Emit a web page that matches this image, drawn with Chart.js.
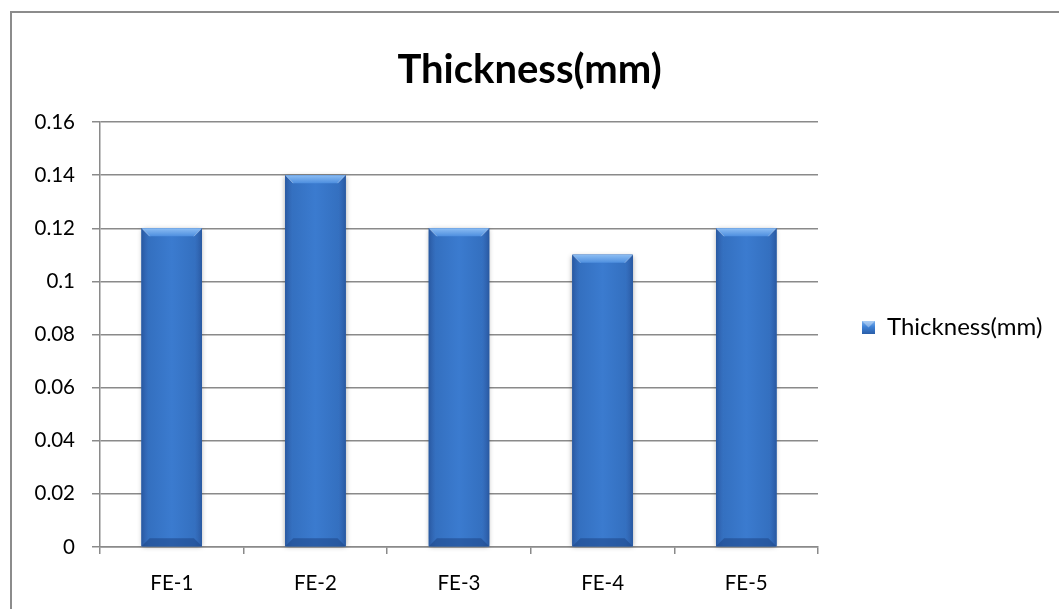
<!DOCTYPE html>
<html>
<head>
<meta charset="utf-8">
<script src="https://cdn.jsdelivr.net/npm/chart.js@4/dist/chart.umd.min.js"></script>
<style>
  html, body { margin: 0; padding: 0; background: #fff; }
  #wrap { position: relative; width: 1059px; height: 609px; }
  #frame { position: absolute; left: 10px; top: 11px; right: 0; bottom: 0;
           border-left: 2px solid #8c8c8c; border-top: 2px solid #8c8c8c; pointer-events: none; }
  canvas { position: absolute; left: 0; top: 0; }
</style>
</head>
<body>
<div id="wrap">
  <canvas id="chart" width="1059" height="609"></canvas>
  <div id="frame"></div>
</div>
<script>
// Sample thickness per specimen
const categories = ['FE-1', 'FE-2', 'FE-3', 'FE-4', 'FE-5'];
const thickness = [0.12, 0.14, 0.12, 0.11, 0.12];
const seriesName = 'Thickness(mm)';
const yTicks = [0, 0.02, 0.04, 0.06, 0.08, 0.1, 0.12, 0.14, 0.16];

const FONT = 'Lato, "Open Sans", sans-serif';
const GRID = '#8a8a8a';
const TICK_SIZE = 20.5;
const LEGEND_SIZE = 24;
const MARK = 13;
const LEGEND_PAD = 44;
const PLOT_LEFT = 100;
const PLOT_RIGHT = 818;
const CANVAS_W = 1059;

// Small bevelled square used as the legend marker
function makeMarker(size) {
  const c = document.createElement('canvas');
  c.width = size; c.height = size;
  const g = c.getContext('2d');
  const lg = g.createLinearGradient(0, 0, 0, size);
  lg.addColorStop(0, '#7db3f0');
  lg.addColorStop(0.45, '#3f82d6');
  lg.addColorStop(1, '#2a5ea8');
  g.fillStyle = lg;
  g.fillRect(0, 0, size, size);
  g.fillStyle = 'rgba(255,255,255,0.35)';
  g.beginPath(); g.moveTo(0, 0); g.lineTo(size, 0); g.lineTo(size / 2, size / 2); g.closePath(); g.fill();
  return c;
}

// Width the legend column needs, so the plot keeps its right edge
function legendWidth() {
  const c = document.createElement('canvas').getContext('2d');
  c.font = `${LEGEND_SIZE}px ${FONT}`;
  const itemW = MARK + LEGEND_SIZE / 2 + c.measureText(seriesName).width;
  return LEGEND_PAD + itemW + 10;
}

// Draws the bevelled look on top of each bar the library has laid out
const bevelBars = {
  id: 'bevelBars',
  afterDatasetsDraw(chart) {
    const ctx = chart.ctx;
    chart.getSortedVisibleDatasetMetas().forEach(meta => {
      meta.data.forEach(bar => {
        const p = bar.getProps(['x', 'y', 'base', 'width'], true);
        const L = p.x - p.width / 2, R = p.x + p.width / 2;
        const T = Math.min(p.y, p.base), B = Math.max(p.y, p.base);
        const w = R - L, h = B - T, b = 8;
        ctx.save();
        // soft shadow
        ctx.shadowColor = 'rgba(0,0,0,0.35)';
        ctx.shadowBlur = 5;
        ctx.shadowOffsetY = 1;
        ctx.fillStyle = '#2f65b2';
        ctx.fillRect(L, T, w, h);
        ctx.restore();

        ctx.save();
        // body: darker at the sides
        const hg = ctx.createLinearGradient(L, 0, R, 0);
        hg.addColorStop(0, '#2c5da6');
        hg.addColorStop(0.12, '#3470c0');
        hg.addColorStop(0.5, '#3b7bcf');
        hg.addColorStop(0.88, '#3470c0');
        hg.addColorStop(1, '#2c5da6');
        ctx.fillStyle = hg;
        ctx.fillRect(L, T, w, h);

        // top bevel
        const tg = ctx.createLinearGradient(0, T, 0, T + b);
        tg.addColorStop(0, '#8cbdf3');
        tg.addColorStop(1, '#4e8fdf');
        ctx.fillStyle = tg;
        ctx.beginPath();
        ctx.moveTo(L, T); ctx.lineTo(R, T); ctx.lineTo(R - b, T + b); ctx.lineTo(L + b, T + b);
        ctx.closePath(); ctx.fill();

        // left bevel
        const lg = ctx.createLinearGradient(L, 0, L + b, 0);
        lg.addColorStop(0, 'rgba(40,88,160,0.9)');
        lg.addColorStop(1, 'rgba(60,120,205,0.0)');
        ctx.fillStyle = lg;
        ctx.beginPath();
        ctx.moveTo(L, T); ctx.lineTo(L + b, T + b); ctx.lineTo(L + b, B - b); ctx.lineTo(L, B);
        ctx.closePath(); ctx.fill();

        // right bevel
        const rg = ctx.createLinearGradient(R - b, 0, R, 0);
        rg.addColorStop(0, 'rgba(60,120,205,0.0)');
        rg.addColorStop(1, 'rgba(40,88,160,0.9)');
        ctx.fillStyle = rg;
        ctx.beginPath();
        ctx.moveTo(R, T); ctx.lineTo(R - b, T + b); ctx.lineTo(R - b, B - b); ctx.lineTo(R, B);
        ctx.closePath(); ctx.fill();

        // bottom bevel
        ctx.fillStyle = 'rgba(30,70,135,0.55)';
        ctx.beginPath();
        ctx.moveTo(L, B); ctx.lineTo(R, B); ctx.lineTo(R - b, B - b); ctx.lineTo(L + b, B - b);
        ctx.closePath(); ctx.fill();

        // top highlight corners
        ctx.strokeStyle = 'rgba(255,255,255,0.35)';
        ctx.lineWidth = 1;
        ctx.beginPath();
        ctx.moveTo(L + 0.5, T + 0.5); ctx.lineTo(L + b, T + b);
        ctx.moveTo(R - 0.5, T + 0.5); ctx.lineTo(R - b, T + b);
        ctx.stroke();
        ctx.restore();
      });
    });
  }
};

const marker = makeMarker(MARK);
// equal side padding keeps the title centred on the whole canvas
const sidePad = Math.max(0, CANVAS_W - PLOT_RIGHT - legendWidth());

new Chart(document.getElementById('chart'), {
  type: 'bar',
  data: {
    labels: categories,
    datasets: [{
      label: seriesName,
      data: thickness,
      backgroundColor: '#3a77c9',
      borderWidth: 0,
      categoryPercentage: 1,
      barPercentage: 0.42,
      pointStyle: marker
    }]
  },
  options: {
    responsive: false,
    animation: false,
    events: [],
    layout: { padding: { left: sidePad, right: sidePad, top: 46, bottom: 0 } },
    plugins: {
      tooltip: { enabled: false },
      title: {
        display: true,
        text: seriesName,
        color: '#000',
        font: { family: FONT, size: 40, weight: 'bold' },
        padding: { top: 0, bottom: 28 }
      },
      legend: {
        display: true,
        position: 'right',
        labels: {
          color: '#000',
          font: { family: FONT, size: LEGEND_SIZE },
          usePointStyle: true,
          pointStyleWidth: MARK,
          boxWidth: MARK,
          boxHeight: MARK,
          padding: LEGEND_PAD
        }
      }
    },
    scales: {
      x: {
        grid: { display: true, drawOnChartArea: false, drawTicks: true, tickLength: 7, color: GRID, lineWidth: 1.5, offset: true },
        border: { display: true, color: GRID, width: 1.5 },
        ticks: { color: '#000', font: { family: FONT, size: TICK_SIZE }, padding: 17, maxRotation: 0 },
        afterFit(scale) { scale.height = 62; }
      },
      y: {
        min: 0,
        max: 0.16,
        afterBuildTicks(scale) { scale.ticks = yTicks.map(v => ({ value: v })); },
        grid: { color: GRID, lineWidth: 1.5, drawTicks: true, tickLength: 8 },
        border: { display: true, color: GRID, width: 1.5 },
        ticks: {
          color: '#000',
          font: { family: FONT, size: TICK_SIZE },
          padding: 17,
          callback: v => String(+v.toFixed(2))
        },
        afterFit(scale) { scale.width = PLOT_LEFT - sidePad; }
      }
    }
  },
  plugins: [bevelBars]
});
</script>
</body>
</html>
